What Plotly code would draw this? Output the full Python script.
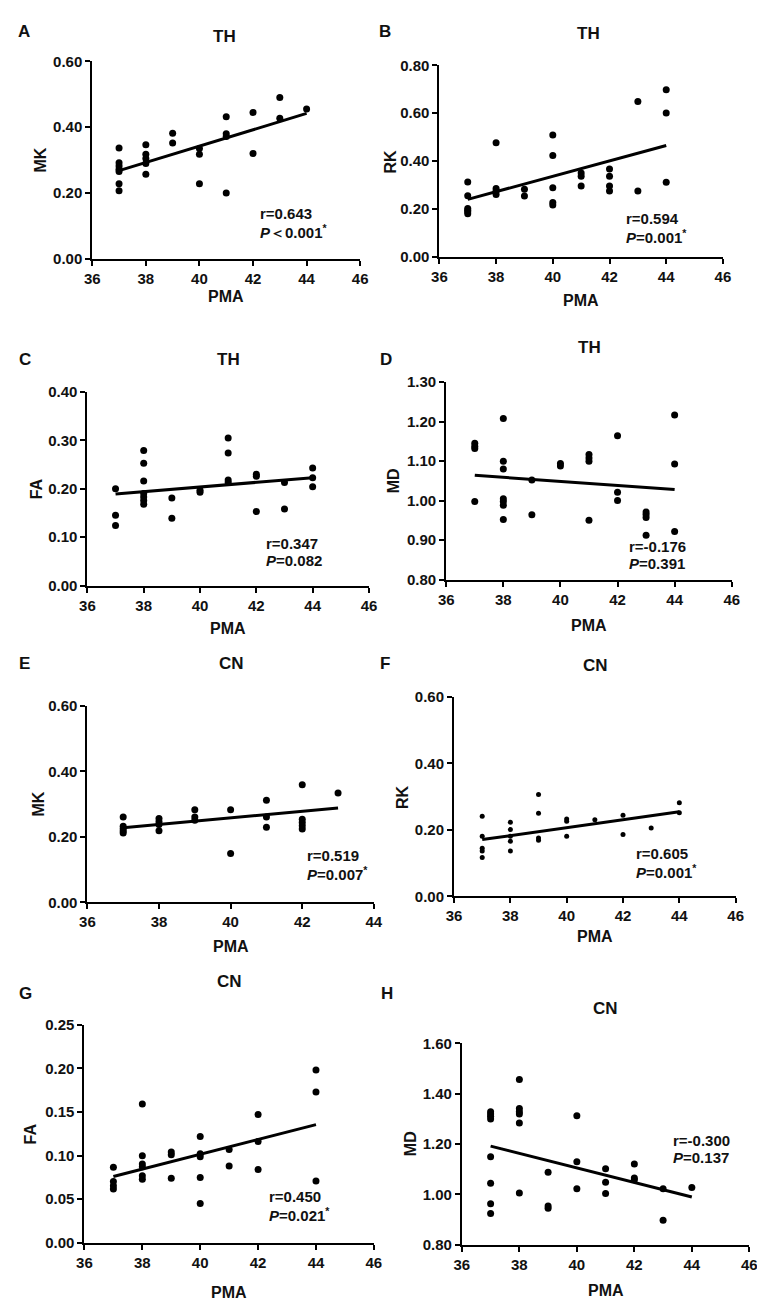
import plotly.graph_objects as go

# === Data ===
# A: TH, MK
a_pma = [37, 37, 37, 37, 37, 37, 37, 38, 38, 38, 38, 38, 39, 39, 40, 40, 40,
         41, 41, 41, 41, 42, 42, 43, 43, 44]
a_val = [0.337, 0.292, 0.282, 0.272, 0.265, 0.228, 0.207, 0.347, 0.318, 0.305,
         0.290, 0.257, 0.382, 0.352, 0.335, 0.318, 0.228, 0.432, 0.380, 0.372,
         0.200, 0.445, 0.320, 0.490, 0.427, 0.455]
a_fit = [0.268, 0.442]

# B: TH, RK
b_pma = [37, 37, 37, 37, 37, 37, 38, 38, 38, 38, 39, 39, 40, 40, 40, 40, 40,
         41, 41, 41, 42, 42, 42, 42, 43, 43, 44, 44, 44]
b_val = [0.313, 0.255, 0.202, 0.195, 0.188, 0.180, 0.477, 0.285, 0.275, 0.260,
         0.282, 0.254, 0.509, 0.423, 0.289, 0.227, 0.217, 0.350, 0.337, 0.296,
         0.367, 0.337, 0.296, 0.275, 0.649, 0.275, 0.698, 0.601, 0.312]
b_fit = [0.240, 0.465]

# C: TH, FA
c_pma = [37, 37, 37, 38, 38, 38, 38, 38, 38, 38, 39, 39, 40, 40, 41, 41, 41,
         41, 42, 42, 42, 43, 43, 44, 44, 44]
c_val = [0.200, 0.145, 0.124, 0.279, 0.253, 0.216, 0.190, 0.183, 0.176, 0.168,
         0.181, 0.139, 0.197, 0.193, 0.305, 0.274, 0.218, 0.213, 0.230, 0.226,
         0.153, 0.213, 0.158, 0.243, 0.223, 0.204]
c_fit = [0.189, 0.223]

# D: TH, MD
d_pma = [37, 37, 37, 37, 38, 38, 38, 38, 38, 38, 38, 39, 39, 40, 40, 41, 41,
         41, 41, 42, 42, 42, 43, 43, 43, 43, 44, 44, 44]
d_val = [1.145, 1.138, 1.132, 0.998, 1.208, 1.100, 1.080, 1.005, 0.998, 0.988,
         0.952, 1.052, 0.964, 1.094, 1.088, 1.117, 1.108, 1.100, 0.950, 1.164,
         1.021, 1.000, 0.971, 0.965, 0.957, 0.912, 1.217, 1.093, 0.922]
d_fit = [1.064, 1.028]

# E: CN, MK
e_pma = [37, 37, 37, 37, 37, 38, 38, 38, 38, 39, 39, 39, 40, 40, 41, 41, 41,
         42, 42, 42, 42, 42, 43]
e_val = [0.261, 0.232, 0.225, 0.218, 0.212, 0.256, 0.246, 0.238, 0.219, 0.283,
         0.261, 0.251, 0.283, 0.149, 0.312, 0.261, 0.229, 0.359, 0.254, 0.244,
         0.234, 0.224, 0.334]
e_fit = [0.228, 0.288]

# F: CN, RK
f_pma = [37, 37, 37, 37, 37, 38, 38, 38, 38, 38, 39, 39, 39, 39, 40, 40, 40,
         41, 42, 42, 43, 44, 44]
f_val = [0.241, 0.181, 0.145, 0.137, 0.117, 0.223, 0.201, 0.181, 0.166, 0.137,
         0.307, 0.250, 0.176, 0.169, 0.233, 0.226, 0.181, 0.231, 0.244, 0.186,
         0.206, 0.282, 0.252]
f_fit = [0.171, 0.255]

# G: CN, FA
g_pma = [37, 37, 37, 37, 38, 38, 38, 38, 38, 38, 39, 39, 39, 40, 40, 40, 40,
         40, 41, 41, 42, 42, 42, 44, 44, 44]
g_val = [0.0866, 0.0704, 0.0655, 0.0617, 0.159, 0.0998, 0.0904, 0.0873, 0.0768,
         0.073, 0.104, 0.101, 0.074, 0.122, 0.102, 0.0986, 0.075, 0.045, 0.107,
         0.088, 0.147, 0.116, 0.084, 0.198, 0.173, 0.071]
g_fit = [0.076, 0.1355]

# H: CN, MD
h_pma = [37, 37, 37, 37, 37, 37, 37, 37, 38, 38, 38, 38, 38, 38, 39, 39, 39,
         40, 40, 40, 41, 41, 41, 42, 42, 42, 43, 43, 44]
h_val = [1.329, 1.320, 1.311, 1.300, 1.150, 1.045, 0.963, 0.924, 1.457, 1.342,
         1.329, 1.320, 1.284, 1.006, 1.088, 0.954, 0.945, 1.313, 1.130, 1.023,
         1.102, 1.049, 1.004, 1.121, 1.065, 1.058, 1.023, 0.898, 1.028]
h_fit = [1.192, 0.990]

fit_pma = [37, 44]
fit_pma_e = [37, 43]

x_ticks = [36, 38, 40, 42, 44, 46]
x_ticks_e = [36, 38, 40, 42, 44]

W, H = 765, 1306
FONT = "Arial, Liberation Sans, sans-serif"

# per panel: text, data, axis box in px (x0, x1, ytop, ybottom) and label spots
panels = [
    dict(letter="A", title="TH", ylab="MK", x=a_pma, y=a_val, fx=fit_pma, fy=a_fit,
         yt=[0, 0.2, 0.4, 0.6], xt=x_ticks, r="r=0.643", p="<i>P</i>＜0.001<sup>*</sup>",
         ms=7, box=(78, 352, 45, 245), lx=8, ly=15, tx=213, ty=20, ytx=25, xty=283,
         sx=248, sy=199),
    dict(letter="B", title="TH", ylab="RK", x=b_pma, y=b_val, fx=fit_pma, fy=b_fit,
         yt=[0, 0.2, 0.4, 0.6, 0.8], xt=x_ticks, r="r=0.594", p="<i>P</i>=0.001<sup>*</sup>",
         ms=7, box=(433, 723, 49, 243), lx=377, ly=15, tx=585, ty=17, ytx=383, xty=287,
         sx=622, sy=204),
    dict(letter="C", title="TH", ylab="FA", x=c_pma, y=c_val, fx=fit_pma, fy=c_fit,
         yt=[0, 0.1, 0.2, 0.3, 0.4], xt=x_ticks, r="r=0.347", p="<i>P</i>=0.082",
         ms=7, box=(73, 361, 380, 576), lx=9, ly=347, tx=217, ty=347, ytx=21, xty=620,
         sx=254, sy=533),
    dict(letter="D", title="TH", ylab="MD", x=d_pma, y=d_val, fx=fit_pma, fy=d_fit,
         yt=[0.8, 0.9, 1.0, 1.1, 1.2, 1.3], xt=x_ticks, r="r=-0.176", p="<i>P</i>=0.391",
         ms=7, box=(440, 732, 370, 570), lx=378, ly=347, tx=587, ty=335, ytx=386, xty=617,
         sx=625, sy=536),
    dict(letter="E", title="CN", ylab="MK", x=e_pma, y=e_val, fx=fit_pma_e, fy=e_fit,
         yt=[0, 0.2, 0.4, 0.6], xt=x_ticks_e, r="r=0.519", p="<i>P</i>=0.007<sup>*</sup>",
         ms=7, box=(73, 366, 698, 897), lx=9, ly=655, tx=220, ty=655, ytx=23, xty=942,
         sx=296, sy=850),
    dict(letter="F", title="CN", ylab="RK", x=f_pma, y=f_val, fx=fit_pma, fy=f_fit,
         yt=[0, 0.2, 0.4, 0.6], xt=x_ticks, r="r=0.605", p="<i>P</i>=0.001<sup>*</sup>",
         ms=5, box=(448, 736, 689, 891), lx=377, ly=655, tx=593, ty=657, ytx=395, xty=932,
         sx=632, sy=848),
    dict(letter="G", title="CN", ylab="FA", x=g_pma, y=g_val, fx=fit_pma, fy=g_fit,
         yt=[0, 0.05, 0.1, 0.15, 0.2, 0.25], xt=x_ticks, r="r=0.450", p="<i>P</i>=0.021<sup>*</sup>",
         ms=7, box=(70, 366, 1021, 1242), lx=10, ly=989, tx=218, ty=977, ytx=15, xty=1292,
         sx=257, sy=1195),
    dict(letter="H", title="CN", ylab="MD", x=h_pma, y=h_val, fx=fit_pma, fy=h_fit,
         yt=[0.8, 1.0, 1.2, 1.4, 1.6], xt=x_ticks, r="r=-0.300", p="<i>P</i>=0.137",
         ms=7, box=(456, 750, 1040, 1244), lx=379, ly=989, tx=603, ty=1005, ytx=403, xty=1290,
         sx=670, sy=1138),
]


def px(v):
    return v / W


def py(v):
    return 1 - v / H


fig = go.Figure()
layout = {}
annotations = []

for i, p in enumerate(panels, start=1):
    xa = "x" if i == 1 else f"x{i}"
    ya = "y" if i == 1 else f"y{i}"
    x0, x1, yt0, yb0 = p["box"]

    fig.add_trace(go.Scatter(
        x=p["x"], y=p["y"], mode="markers", xaxis=xa, yaxis=ya,
        marker=dict(size=p["ms"], color="black"), cliponaxis=False, showlegend=False,
    ))
    fig.add_trace(go.Scatter(
        x=p["fx"], y=p["fy"], mode="lines", xaxis=xa, yaxis=ya,
        line=dict(color="black", width=3), showlegend=False,
    ))

    axis_common = dict(
        showline=True, linecolor="black", linewidth=2, ticks="outside", ticklen=5,
        tickwidth=2, tickcolor="black", showgrid=False, zeroline=False,
        tickfont=dict(family=FONT, size=15, color="#111", weight="bold"),
        fixedrange=True,
    )
    layout["xaxis" if i == 1 else f"xaxis{i}"] = dict(
        axis_common, domain=[px(x0), px(x1)], range=[p["xt"][0], p["xt"][-1]],
        tickvals=p["xt"], anchor=ya,
    )
    layout["yaxis" if i == 1 else f"yaxis{i}"] = dict(
        axis_common, domain=[py(yb0), py(yt0)], range=[p["yt"][0], p["yt"][-1]],
        tickvals=p["yt"], tickformat=".2f", anchor=xa,
    )

    bold = dict(family=FONT, color="#111", weight="bold")
    annotations += [
        dict(text=p["letter"], x=px(p["lx"]), y=py(p["ly"]), font=dict(bold, size=17)),
        dict(text=p["title"], x=px(p["tx"]), y=py(p["ty"]), font=dict(bold, size=17)),
        dict(text=p["ylab"], x=px(p["ytx"]), y=py((yt0 + yb0) / 2), textangle=-90,
             font=dict(bold, size=16)),
        dict(text="PMA", x=px((x0 + x1) / 2), y=py(p["xty"]), font=dict(bold, size=16)),
        dict(text=p["r"], x=px(p["sx"]), y=py(p["sy"]), xanchor="left",
             font=dict(bold, size=15)),
        dict(text=p["p"], x=px(p["sx"]), y=py(p["sy"] + 18), xanchor="left",
             font=dict(bold, size=15)),
    ]

for a in annotations:
    a.update(xref="paper", yref="paper", showarrow=False)
    a.setdefault("xanchor", "center")
    a.setdefault("yanchor", "middle")

fig.update_layout(
    layout,
    width=W, height=H,
    margin=dict(l=0, r=0, t=0, b=0),
    plot_bgcolor="white", paper_bgcolor="white",
    annotations=annotations,
    showlegend=False,
)

fig.write_html("out.html")
